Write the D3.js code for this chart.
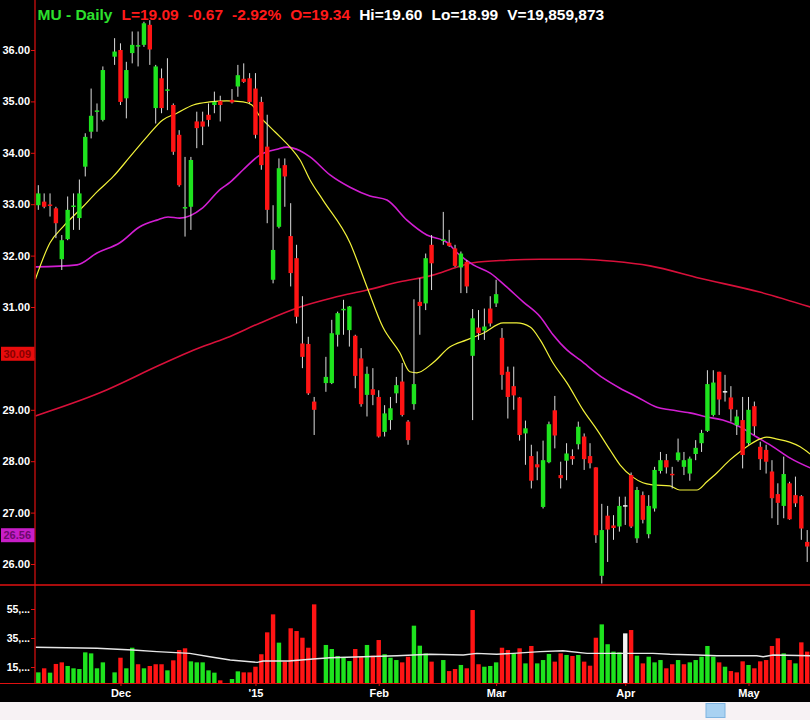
<!DOCTYPE html>
<html><head><meta charset="utf-8">
<script src="https://cdn.jsdelivr.net/npm/d3@7"></script>
<style>
html,body{margin:0;padding:0;background:#000;overflow:hidden;}
svg{display:block;}
</style></head><body>
<svg id="c" width="810" height="720"></svg>
<script>
// ---------- DATA (one entry per chart slot; null = empty slot) ----------
const opens = [32.98,33.05,32.98,32.92,31.93,32.32,32.94,32.73,33.73,34.41,34.79,34.64,null,35.87,36.00,35.06,35.94,36.07,36.10,36.49,34.87,35.45,35.20,34.93,34.35,32.91,32.95,34.61,34.61,34.74,34.93,35.01,null,35.03,35.29,35.44,35.45,35.25,34.99,34.12,31.53,32.56,33.76,32.38,31.95,30.29,30.28,29.16,null,29.52,29.52,30.46,30.93,30.55,30.44,30.00,29.29,29.40,29.25,28.57,28.80,29.32,29.55,28.77,29.11,31.10,31.07,32.21,null,32.28,32.25,32.14,31.77,31.88,30.05,30.60,30.54,30.97,31.07,30.40,29.74,29.46,29.24,28.54,28.10,27.94,27.11,27.98,28.99,27.73,28.01,28.10,28.33,28.48,28.10,27.88,25.77,26.94,26.75,26.73,27.13,27.73,26.50,27.34,26.58,27.08,27.81,28.02,27.74,28.02,27.89,27.76,28.14,28.35,28.59,28.90,29.74,29.35,29.24,28.70,28.80,28.35,29.07,28.28,28.22,27.80,27.36,27.13,27.57,27.34,27.32,26.43];
const highs = [33.37,33.21,33.21,32.95,32.40,33.15,33.21,33.48,34.38,35.25,34.96,35.68,null,36.23,36.13,35.77,36.36,36.36,36.55,36.58,35.71,35.64,35.84,34.96,34.44,33.92,33.92,34.80,34.80,34.96,35.19,35.11,null,35.24,35.71,35.74,35.55,35.55,35.09,34.74,32.98,33.89,33.89,33.02,32.21,31.21,30.42,29.25,null,30.03,30.75,30.91,31.14,31.02,30.46,30.20,29.84,29.81,29.38,29.09,29.25,29.64,29.91,28.80,31.15,31.56,32.04,32.40,null,32.85,32.50,32.21,32.08,31.91,30.96,30.94,30.97,31.21,31.53,30.59,29.84,29.84,29.25,28.79,28.32,28.19,28.40,28.77,29.27,27.99,28.35,28.23,28.77,28.54,28.35,27.88,27.17,27.13,26.95,27.31,27.31,27.78,27.50,27.41,27.34,27.89,28.18,28.14,27.89,28.44,28.18,28.09,28.41,28.61,29.77,29.77,29.74,29.68,29.46,29.00,29.25,29.25,29.16,28.38,28.32,28.02,27.57,28.09,27.60,27.70,27.34,26.66];
const lows = [32.89,32.92,32.76,32.34,31.72,32.30,32.50,32.50,33.54,34.28,34.41,34.61,null,35.71,34.93,34.67,35.74,35.68,36.06,35.71,34.57,34.77,34.83,33.96,33.34,32.37,32.50,34.09,34.15,34.51,34.77,34.61,null,34.96,35.09,35.36,34.96,34.28,33.67,32.63,31.46,32.53,32.95,31.40,30.68,29.81,29.29,28.51,null,29.35,29.50,30.23,30.46,30.23,29.42,29.06,28.87,29.09,28.46,28.48,28.61,29.13,28.87,28.32,29.00,30.46,30.94,31.33,null,32.21,32.17,31.78,31.27,31.27,28.80,30.36,30.36,30.62,31.00,29.39,28.83,29.00,28.40,27.93,27.47,27.63,27.08,27.96,28.25,27.47,27.63,27.93,28.23,27.83,27.86,26.41,25.62,26.04,26.47,26.63,26.76,26.70,26.41,26.79,26.50,27.02,27.76,27.76,27.47,27.99,27.73,27.62,28.02,28.18,28.57,28.87,28.90,29.16,28.77,28.51,27.86,28.32,28.51,27.83,27.76,26.89,26.76,26.89,26.86,27.11,26.47,26.04];
const closes = [33.21,32.95,32.96,32.63,32.30,32.89,32.96,33.21,34.31,34.72,34.81,35.61,null,35.97,34.99,35.61,36.10,36.08,36.52,36.01,35.68,34.87,35.22,34.02,33.37,32.93,33.86,34.48,34.51,34.64,34.99,34.93,null,34.98,35.51,35.38,34.99,34.35,33.76,32.89,32.11,33.70,33.54,31.66,30.81,30.03,29.32,29.00,null,29.64,30.49,30.88,30.95,31.01,29.66,29.11,29.70,29.29,28.48,28.93,29.03,29.48,28.90,28.41,29.50,31.02,31.95,31.85,null,32.30,32.19,31.80,32.04,31.40,30.78,30.49,30.62,30.68,31.25,29.68,29.25,29.28,28.51,28.64,27.62,27.88,28.02,28.72,28.50,27.67,28.15,28.04,28.67,28.04,27.96,26.56,26.66,26.67,26.70,27.13,27.13,26.73,27.44,26.86,27.13,27.83,28.02,27.88,27.72,28.17,28.02,28.05,28.26,28.55,29.50,29.53,29.20,29.35,29.01,28.87,28.12,29.00,28.68,28.04,27.99,27.28,27.19,27.75,26.87,27.18,26.69,26.34];
const volumes = [11.3,14.1,11.1,17.1,18.2,15.7,14.1,13.6,25.1,24.4,14.1,18.2,null,11.3,21.4,14.1,28.3,16.9,14.1,15.7,16.9,16.9,12.7,19.6,26.7,27.9,18.9,18.2,18.2,12.7,11.1,5.8,null,6.7,12.0,11.3,11.3,15.2,23.8,38.9,51.3,31.8,18.7,41.7,39.8,35.2,28.3,58.2,null,30.2,27.4,22.6,21.4,19.1,27.4,22.1,30.2,22.8,33.6,23.8,21.4,19.8,18.2,22.1,43.5,29.7,24.4,18.7,null,19.8,12.2,13.6,16.4,14.1,54.3,16.9,15.2,15.7,18.2,28.3,26.7,24.4,27.9,17.5,29.5,17.5,19.8,24.0,18.7,24.4,23.3,22.6,23.3,18.7,15.9,35.2,44.4,30.7,25.6,25.1,38.2,40.5,22.8,17.5,22.1,18.2,19.8,14.1,16.9,19.8,16.9,18.2,19.8,22.1,29.5,22.1,18.2,15.2,12.2,11.3,18.9,16.4,14.1,18.9,19.8,29.5,34.8,24.4,19.8,17.5,32.0,25.6];

// moving averages: [slot, value]
const ma20 = [[-0.5,31.54],[2,32.25],[4.2,32.56],[7.6,32.95],[10,33.24],[12.7,33.53],[15.6,33.92],[18.5,34.31],[21.2,34.64],[23.6,34.77],[26.4,34.93],[29.2,34.99],[32.1,35.01],[34.9,34.99],[36.4,34.93],[37.8,34.70],[39.5,34.50],[41.2,34.31],[42.9,34.11],[44.6,33.86],[46.3,33.47],[48.5,33.08],[53.1,32.25],[56,31.39],[58.7,30.61],[61.6,30.11],[63.3,29.74],[64.5,29.72],[67.2,29.91],[70.1,30.22],[73,30.36],[75.8,30.49],[79.2,30.69],[81.5,30.69],[83.8,30.61],[85.5,30.36],[87.7,29.91],[90.1,29.52],[92.8,29.00],[95.2,28.61],[97.4,28.22],[99.1,27.93],[101.3,27.69],[103,27.58],[104.7,27.54],[107.6,27.52],[109.3,27.44],[112.2,27.44],[113.9,27.60],[115.6,27.77],[117.8,28.02],[119.5,28.18],[121.2,28.32],[122.9,28.43],[124.1,28.47],[125.9,28.43],[128,28.37],[129.8,28.28],[131.5,28.14]];
const ma50 = [[-0.5,31.78],[6.6,31.82],[10,32.05],[13.9,32.25],[17.3,32.56],[20.2,32.69],[22.1,32.75],[24.1,32.73],[28,32.93],[30.9,33.28],[32.7,33.43],[34.9,33.67],[37.8,33.96],[40.7,34.07],[42.4,34.11],[44.6,34.04],[46.3,33.92],[49.7,33.57],[53.1,33.33],[56.5,33.16],[59.4,33.08],[62.8,32.69],[66.2,32.40],[69.6,32.26],[71.4,32.05],[74.1,31.82],[77,31.66],[79.8,31.39],[82.6,31.10],[85.5,30.81],[87.7,30.46],[90.1,30.16],[92.3,29.97],[96.2,29.62],[99.1,29.42],[102,29.25],[105.4,29.05],[107.6,29.00],[111,28.94],[113.9,28.86],[116.6,28.80],[119.5,28.67],[122.4,28.47],[125.2,28.28],[128.1,28.06],[131.5,27.87]];
const ma200 = [[-0.5,28.88],[10.5,29.33],[20.7,29.87],[26.4,30.16],[32.1,30.40],[37.8,30.69],[44.6,31.00],[50.2,31.18],[56,31.33],[61.6,31.49],[67.2,31.62],[71.4,31.78],[74.1,31.86],[79.8,31.91],[85.5,31.93],[92.3,31.93],[98,31.89],[104.2,31.80],[112.7,31.56],[122.9,31.29],[131.5,31.00]];
const volMA = [[-0.5,28.6],[10,27.9],[16.1,26.7],[20.2,25.6],[25.8,24.4],[29.2,22.1],[32.7,19.8],[37.3,18.2],[38.3,19.1],[42.7,19.1],[46.8,20.5],[49.7,21.4],[55.3,22.1],[61.1,22.8],[66.7,23.8],[72.4,23.3],[74.7,24.4],[78.1,23.8],[80.9,24.4],[85.5,25.6],[89.4,26.2],[93.5,24.4],[104.7,24.4],[107.6,23.8],[112.2,23.3],[115.6,22.8],[122.4,22.8],[123.5,22.1],[125.2,23.3],[131.5,22.8]];

const priceTicks = [26,27,28,29,30,31,32,33,34,35,36];
const volTicks = [15,35,55];
const monthLabels = ["Dec","'15","Feb","Mar","Apr","May"];
const monthSlots = [14,37,58,78,100,121];
const headerTexts = ["MU - Daily","L=19.09","-0.67","-2.92%","O=19.34","Hi=19.60","Lo=18.99","V=19,859,873"];
const headerKinds = ["title","down","down","down","down","info","info","info"];
const boxLabels = [{v:30.09, kind:"ma200"},{v:26.56, kind:"ma50"}];

// ---------- LAYOUT / STYLE ----------
const W = 810, H = 720;
const colors = {up:"#1ee31e", down:"#ff1414", flat:"#f2f2f2", wick:"#dcdcdc",
  ma20:"#f2f23a", ma50:"#d21ed2", ma200:"#d8103a", vma:"#e6e6e6",
  axis:"#e01010", text:"#ffffff", title:"#2de02d", info:"#ffffff"};
const slots = opens.length;
const svg = d3.select("#c");
svg.append("rect").attr("width",W).attr("height",H).attr("fill","#000");

const x = d3.scaleLinear().domain([0, slots-1]).range([38.3, 807.2]);
const y = d3.scaleLinear().domain([26, 36]).range([564, 50]);
const yv = d3.scaleLinear().domain([15, 55]).range([667, 609]);
const volBase = 683;
const bw = 4.4;

const defs = svg.append("defs");
defs.append("clipPath").attr("id","pclip").append("rect").attr("x",35.5).attr("y",0).attr("width",W-35).attr("height",584);
defs.append("clipPath").attr("id","vclip").append("rect").attr("x",35.5).attr("y",588).attr("width",W-35).attr("height",volBase-588);

const idx = d3.range(slots).filter(i => opens[i] !== null);

// price panel
const pg = svg.append("g").attr("clip-path","url(#pclip)");
const maLine = d3.line().x(d=>x(d[0])).y(d=>y(d[1])).curve(d3.curveMonotoneX);
pg.append("path").attr("d",maLine(ma200)).attr("fill","none").attr("stroke",colors.ma200).attr("stroke-width",1.6);
pg.append("path").attr("d",maLine(ma50)).attr("fill","none").attr("stroke",colors.ma50).attr("stroke-width",1.6);
pg.append("path").attr("d",maLine(ma20)).attr("fill","none").attr("stroke",colors.ma20).attr("stroke-width",1.2);

function dir(i){ return closes[i] > opens[i] ? "up" : (closes[i] < opens[i] ? "down" : "flat"); }
pg.selectAll("line.wick").data(idx).join("line").attr("class","wick")
  .attr("x1",i=>x(i)).attr("x2",i=>x(i)).attr("y1",i=>y(highs[i])).attr("y2",i=>y(lows[i]))
  .attr("stroke",colors.wick).attr("stroke-width",1);
pg.selectAll("rect.body").data(idx).join("rect").attr("class","body")
  .attr("x",i=>x(i)-bw/2).attr("width",bw)
  .attr("y",i=>Math.min(y(opens[i]),y(closes[i])) - (Math.abs(y(opens[i])-y(closes[i]))<1.5?0.75:0))
  .attr("height",i=>Math.max(1.5, Math.abs(y(opens[i])-y(closes[i]))))
  .attr("fill",i=>colors[dir(i)]);

// volume panel
const vg = svg.append("g").attr("clip-path","url(#vclip)");
function vdir(i){
  let p = i-1; while (p>=0 && closes[p]===null) p--;
  if (p<0) return dir(i);
  return closes[i] > closes[p] ? "up" : (closes[i] < closes[p] ? "down" : "flat");
}
vg.selectAll("rect.vol").data(idx).join("rect").attr("class","vol")
  .attr("x",i=>x(i)-bw/2).attr("width",bw)
  .attr("y",i=>yv(volumes[i])).attr("height",i=>volBase-yv(volumes[i]))
  .attr("fill",i=>colors[vdir(i)]);
vg.append("path").attr("d",d3.line().x(d=>x(d[0])).y(d=>yv(d[1]))(volMA))
  .attr("fill","none").attr("stroke",colors.vma).attr("stroke-width",1.4);

// frame lines
svg.append("line").attr("x1",35).attr("x2",35).attr("y1",0).attr("y2",volBase).attr("stroke",colors.axis).attr("stroke-width",1.2);
svg.append("line").attr("x1",0).attr("x2",W).attr("y1",585).attr("y2",585).attr("stroke",colors.axis).attr("stroke-width",1.5);
svg.append("line").attr("x1",0).attr("x2",W).attr("y1",volBase+0.5).attr("y2",volBase+0.5).attr("stroke",colors.axis).attr("stroke-width",1.2);

const font = "'Liberation Sans', Arial, sans-serif";
// price axis (the label hidden under a value box is left blank, as in the picture)
const covered = boxLabels.map(b => Math.round(b.v));
const pa = svg.append("g").attr("transform","translate(35,0)")
  .call(d3.axisLeft(y).tickValues(priceTicks)
    .tickFormat(d => covered.includes(d) && Math.abs(y(d) - y(boxLabels.find(b=>Math.round(b.v)===d).v)) < 10 ? "" : d3.format(".2f")(d))
    .tickSize(4).tickPadding(1));
pa.select(".domain").remove();
pa.selectAll("line").attr("stroke",colors.axis);
pa.selectAll("text").attr("fill",colors.text).attr("font-family",font).attr("font-weight","bold").attr("font-size",11);

// volume axis
const va = svg.append("g").attr("transform","translate(35,0)")
  .call(d3.axisLeft(yv).tickValues(volTicks).tickFormat(d=>d+",...").tickSize(4).tickPadding(1));
va.select(".domain").remove();
va.selectAll("line").attr("stroke",colors.axis);
va.selectAll("text").attr("fill",colors.text).attr("font-family",font).attr("font-weight","bold").attr("font-size",10.5);

// time axis
const ta = svg.append("g").attr("transform",`translate(0,${volBase})`)
  .call(d3.axisBottom(x).tickValues(monthSlots).tickFormat((d,i)=>monthLabels[i]).tickSize(3).tickPadding(3));
ta.select(".domain").remove();
ta.selectAll("line").attr("stroke",colors.axis);
ta.selectAll("text").attr("fill",colors.text).attr("font-family",font).attr("font-weight","bold").attr("font-size",11);

// value boxes on the axis
const boxFill = {ma200:"#e80c0c", ma50:"#c81ec8"};
const boxText = {ma200:"#8a0000", ma50:"#6e0a6e"};
boxLabels.forEach(b=>{
  const cy = y(b.v);
  svg.append("rect").attr("x",1).attr("y",cy-7).attr("width",33.5).attr("height",14).attr("fill",boxFill[b.kind]);
  svg.append("text").attr("x",31).attr("y",cy+4).attr("text-anchor","end").attr("fill",boxText[b.kind])
    .attr("font-family",font).attr("font-weight","bold").attr("font-size",11).text(b.v.toFixed(2));
});

// header
const hColor = {title:colors.title, down:"#ff1a1a", info:colors.info};
let hx = 37.5;
const hg = svg.append("g");
headerTexts.forEach((t,i)=>{
  const el = hg.append("text").attr("x",hx).attr("y",19.5).attr("fill",hColor[headerKinds[i]])
    .attr("font-family",font).attr("font-weight","bold").attr("font-size",15.5).text(t);
  hx += el.node().getComputedTextLength() + 9;
});

// bottom strip (window scrollbar)
svg.append("rect").attr("x",0).attr("y",702).attr("width",W).attr("height",18).attr("fill","#f7f2f4");
svg.append("rect").attr("x",706).attr("y",703.5).attr("width",19).attr("height",14).attr("fill","#a9d2f2").attr("stroke","#7fb4e0");
</script>
</body></html>
